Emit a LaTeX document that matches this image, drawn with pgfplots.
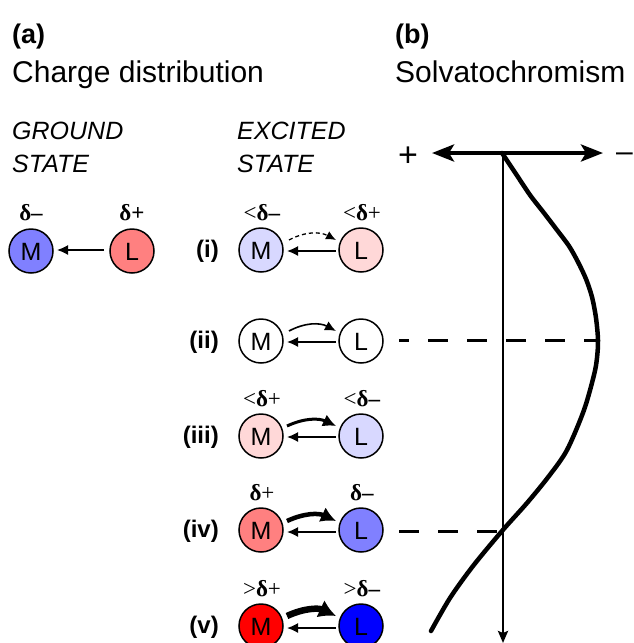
\documentclass[border=0pt]{standalone}
\usepackage{pgfplots}
\pgfplotsset{compat=1.18}
\usepackage{fontspec}
\setmainfont{Liberation Sans}
\newfontfamily\serif{Liberation Serif}
\usetikzlibrary{arrows.meta}
\definecolor{mblue}{RGB}{128,128,255}
\definecolor{mred}{RGB}{255,128,128}
\definecolor{lblue}{RGB}{216,216,255}
\definecolor{lred}{RGB}{255,216,216}
\newcommand{\fbig}{\fontsize{30}{36}\selectfont}
\newcommand{\fmid}{\fontsize{25}{30}\selectfont}
\newcommand{\fdl}{\serif\fontsize{23}{28}\selectfont}
\newcommand{\fml}{\fontsize{25}{30}\selectfont}
\pgfplotsset{circ/.style={only marks, mark=*, mark size=22pt,
   mark options={fill=#1, draw=black, line width=1.5pt},
   nodes near coords, point meta=explicit symbolic,
   every node near coord/.append style={anchor=center, font=\fml, inner sep=0pt, yshift=-1pt}}}
\begin{document}
\begin{tikzpicture}
\begin{axis}[
  scale only axis, width=633pt, height=643pt,
  xmin=0, xmax=633, ymin=0, ymax=643, y dir=reverse,
  hide axis, clip=true,
]
% ---- circles (ground state)
\addplot[circ=mblue] coordinates {(31,251)[M]};
\addplot[circ=mred] coordinates {(132,251)[L]};
% ---- excited state circles
\addplot[circ=lblue] coordinates {(261,250)[M] (361,436)[L]};
\addplot[circ=lred] coordinates {(361,250)[L] (261,436)[M]};
\addplot[circ=white] coordinates {(261,341)[M] (361,341)[L]};
\addplot[circ=mred] coordinates {(261,530)[M]};
\addplot[circ=mblue] coordinates {(361,530)[L]};
\addplot[circ=red] coordinates {(261,626)[M]};
\addplot[circ=blue] coordinates {(361,626)[L]};
% ---- ground-state arrow
\addplot[line width=1.6pt, -{Latex[length=11pt,width=10pt]}] coordinates {(104,250) (57,250)};
% ---- excited-state back arrows (L -> M)
\addplot[line width=1.6pt, -{Latex[length=11pt,width=10pt]}] coordinates {(336,251) (287,251)};
\addplot[line width=1.6pt, -{Latex[length=11pt,width=10pt]}] coordinates {(336,342) (287,342)};
\addplot[line width=1.6pt, -{Latex[length=11pt,width=10pt]}] coordinates {(336,437) (287,437)};
\addplot[line width=1.6pt, -{Latex[length=11pt,width=10pt]}] coordinates {(336,532) (287,532)};
\addplot[line width=1.6pt, -{Latex[length=11pt,width=10pt]}] coordinates {(336,628) (287,628)};
% ---- forward curved arrows (M -> L)
\draw[line width=1.3pt, dash pattern=on 4pt off 3pt, -{Latex[length=10pt,width=9pt]}] (axis cs:289,240) to[bend left=28] (axis cs:336,240);
\draw[line width=1.6pt, -{Latex[length=11pt,width=10pt]}] (axis cs:289,331) to[bend left=28] (axis cs:336,331);
\draw[line width=3pt, -{Latex[length=13pt,width=13pt]}] (axis cs:287,426) to[bend left=25] (axis cs:336,426);
\draw[line width=4.5pt, -{Latex[length=15pt,width=16pt]}] (axis cs:287,521) to[bend left=25] (axis cs:336,521);
\draw[line width=6.5pt, -{Latex[length=17pt,width=19pt]}] (axis cs:287,616) to[bend left=25] (axis cs:336,616);
% ---- panel b
\addplot[line width=4pt, {Stealth[length=22pt,width=17pt,inset=5pt]}-{Stealth[length=22pt,width=17pt,inset=5pt]}] coordinates {(432,153) (603,153)};
\addplot[line width=2.5pt, -{Stealth[length=12pt,width=10pt,inset=2pt]}] coordinates {(503,153) (503,643)};
\addplot[line width=3pt, dash pattern=on 20pt off 19pt, dash phase=10pt] coordinates {(399,340) (598,340)};
\addplot[line width=3pt, dash pattern=on 20pt off 19pt] coordinates {(399,531) (502,531)};
\addplot[smooth, tension=0.5, line width=4.5pt, line cap=round] coordinates {
 (502,153) (516,174) (530,195) (544,213) (557,230) (569,246) (578,262) (586,279) (592,297) (596,318) (598,340) (597,358) (594,375) (584,410) (567,450) (549,476) (527,503) (502,531) (473,566) (450,598) (431,631)};
% ---- texts
\node[anchor=base west, inner sep=0pt, font=\fontsize{27}{32}\selectfont\bfseries] at (axis cs:12,43) {(a)};
\node[anchor=base west, inner sep=0pt, font=\fbig] at (axis cs:12,82) {Charge distribution};
\node[anchor=base west, inner sep=0pt, font=\fontsize{27}{32}\selectfont\bfseries] at (axis cs:395,43) {(b)};
\node[anchor=base west, inner sep=0pt, font=\fbig] at (axis cs:395,82) {Solvatochromism};
\node[anchor=base west, inner sep=0pt, font=\fmid\itshape] at (axis cs:12,139) {GROUND};
\node[anchor=base west, inner sep=0pt, font=\fmid\itshape] at (axis cs:12,172) {STATE};
\node[anchor=base west, inner sep=0pt, font=\fmid\itshape] at (axis cs:237,139) {EXCITED};
\node[anchor=base west, inner sep=0pt, font=\fmid\itshape] at (axis cs:237,172) {STATE};
\node[font=\fontsize{34}{40}\selectfont, inner sep=0pt] at (axis cs:408,157) {+};
\node[anchor=west, inner sep=0pt, font=\fbig] at (axis cs:616,157) {–};
% row labels
\node[anchor=east, inner sep=0pt, font=\fontsize{24}{28}\selectfont\bfseries] at (axis cs:219,251) {(i)};
\node[anchor=east, inner sep=0pt, font=\fontsize{24}{28}\selectfont\bfseries] at (axis cs:219,342) {(ii)};
\node[anchor=east, inner sep=0pt, font=\fontsize{24}{28}\selectfont\bfseries] at (axis cs:219,437) {(iii)};
\node[anchor=east, inner sep=0pt, font=\fontsize{24}{28}\selectfont\bfseries] at (axis cs:219,531) {(iv)};
\node[anchor=east, inner sep=0pt, font=\fontsize{24}{28}\selectfont\bfseries] at (axis cs:219,627) {(v)};
% delta labels
\node[font=\fdl\bfseries] at (axis cs:31,213) {δ–};
\node[font=\fdl\bfseries] at (axis cs:132,213) {δ+};
\node[font=\fdl] at (axis cs:262,213) {<\textbf{δ–}};
\node[font=\fdl] at (axis cs:362,213) {<\textbf{δ}+};
\node[font=\fdl] at (axis cs:262,399) {<\textbf{δ}+};
\node[font=\fdl] at (axis cs:362,399) {<\textbf{δ–}};
\node[font=\fdl] at (axis cs:262,493) {\textbf{δ}+};
\node[font=\fdl] at (axis cs:362,493) {\textbf{δ–}};
\node[font=\fdl] at (axis cs:262,589) {>\textbf{δ}+};
\node[font=\fdl] at (axis cs:362,589) {>\textbf{δ–}};
\end{axis}
\pgfresetboundingbox
\path[use as bounding box] (current axis.south west) rectangle (current axis.north east);
\end{tikzpicture}
\end{document}
